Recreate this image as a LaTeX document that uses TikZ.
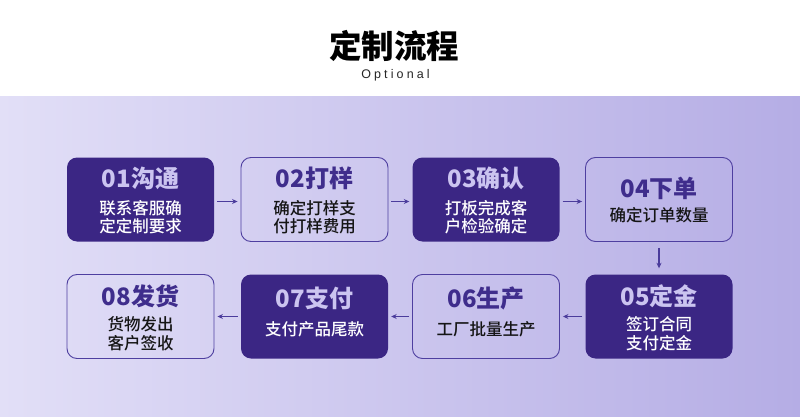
\documentclass[tikz,border=0pt]{standalone}
\usepackage{fontspec}
\newfontfamily\cjk{Noto Sans CJK SC}
\newfontfamily\cjkmed{Noto Sans CJK SC Medium}
\newfontfamily\optfont[LetterSpace=25]{Liberation Sans}
\usetikzlibrary{arrows.meta}
\definecolor{darkbox}{HTML}{3B2684}
\definecolor{darktitle}{HTML}{CBC4F0}
\definecolor{lightborder}{HTML}{4E3FA0}
\definecolor{lighttitle}{HTML}{3F2D8C}
\definecolor{subdark}{HTML}{151515}
\definecolor{bgL}{HTML}{E2DFF7}
\definecolor{bgR}{HTML}{B5ADE5}
\definecolor{arrowc}{HTML}{4B3C9C}
\tikzset{
  boxbase/.style={minimum width=147pt, minimum height=84pt, inner sep=0pt, rounded corners=10pt},
  dbox/.style={boxbase, fill=darkbox},
  lbox/.style={boxbase, draw=lightborder, line width=0.9pt},
  dtitle/.style={text=darktitle, font=\cjk\bfseries\fontsize{24}{24}\selectfont, inner sep=0pt},
  ltitle/.style={text=lighttitle, font=\cjk\bfseries\fontsize{24}{24}\selectfont, inner sep=0pt},
  dsub/.style={text=white, font=\cjkmed\fontsize{16.5}{18.5}\selectfont, align=center, inner sep=0pt},
  lsub/.style={text=subdark, font=\cjkmed\fontsize{16.5}{18.5}\selectfont, align=center, inner sep=0pt},
  flow/.style={draw=arrowc, line width=1.1pt, -{Stealth[length=5.5pt,width=5pt]}},
}
\begin{document}
\begin{tikzpicture}[x=1pt,y=-1pt]
\useasboundingbox (0,0) rectangle (800,417);
\fill[white] (0,0) rectangle (800,97);
\shade[left color=bgL, right color=bgR] (0,97) rectangle (800,417);

\node[font=\cjk\bfseries\fontsize{32.5}{32.5}\selectfont, inner sep=0pt] (head) at (394,46) {定制流程};
\node[font=\optfont\fontsize{12.5}{12.5}\selectfont, inner sep=0pt, text=black!85] (opt) at (395.5,75.5) {Optional};

% row 1
\node[dbox] (b1) at (140.5,199.5) {};
\node[lbox] (b2) at (314.5,199.5) {};
\node[dbox] (b3) at (486,199.5) {};
\node[lbox] (b4) at (659,199.5) {};
% row 2
\node[lbox] (b8) at (140.5,316.5) {};
\node[dbox] (b7) at (314.5,316.5) {};
\node[lbox] (b6) at (486,316.5) {};
\node[dbox] (b5) at (659,316.5) {};

\node[dtitle] (t1) at (140.5,178.5) {01沟通};
\node[dsub] (s1) at (140.5,217) {联系客服确\\定定制要求};
\node[ltitle] (t2) at (314.5,178.5) {02打样};
\node[lsub] (s2) at (314.5,217) {确定打样支\\付打样费用};
\node[dtitle] (t3) at (486,178.5) {03确认};
\node[dsub] (s3) at (486,217) {打板完成客\\户检验确定};
\node[ltitle] (t4) at (659,188) {04下单};
\node[lsub] (s4) at (659,215) {确定订单数量};

\node[dtitle] (t5) at (659,296.5) {05定金};
\node[dsub] (s5) at (659,333.5) {签订合同\\支付定金};
\node[ltitle] (t6) at (486,298) {06生产};
\node[lsub] (s6) at (486,329) {工厂批量生产};
\node[dtitle] (t7) at (314.5,298) {07支付};
\node[dsub] (s7) at (314.5,329) {支付产品尾款};
\node[ltitle] (t8) at (140.5,296.5) {08发货};
\node[lsub] (s8) at (140.5,333.5) {货物发出\\客户签收};

% connectors
\draw[flow] ([xshift=3pt,yshift=-2pt]b1.east) -- ([xshift=-3pt,yshift=-2pt]b2.west);
\draw[flow] ([xshift=3pt,yshift=-2pt]b2.east) -- ([xshift=-3pt,yshift=-2pt]b3.west);
\draw[flow] ([xshift=3pt,yshift=-2pt]b3.east) -- ([xshift=-3pt,yshift=-2pt]b4.west);
\draw[flow] ([yshift=-6pt]b4.south) -- ([yshift=6pt]b5.north);
\draw[flow] ([xshift=-3pt]b5.west) -- ([xshift=3pt]b6.east);
\draw[flow] ([xshift=-3pt]b6.west) -- ([xshift=3pt]b7.east);
\draw[flow] ([xshift=-3pt]b7.west) -- ([xshift=3pt]b8.east);
\end{tikzpicture}
\end{document}
